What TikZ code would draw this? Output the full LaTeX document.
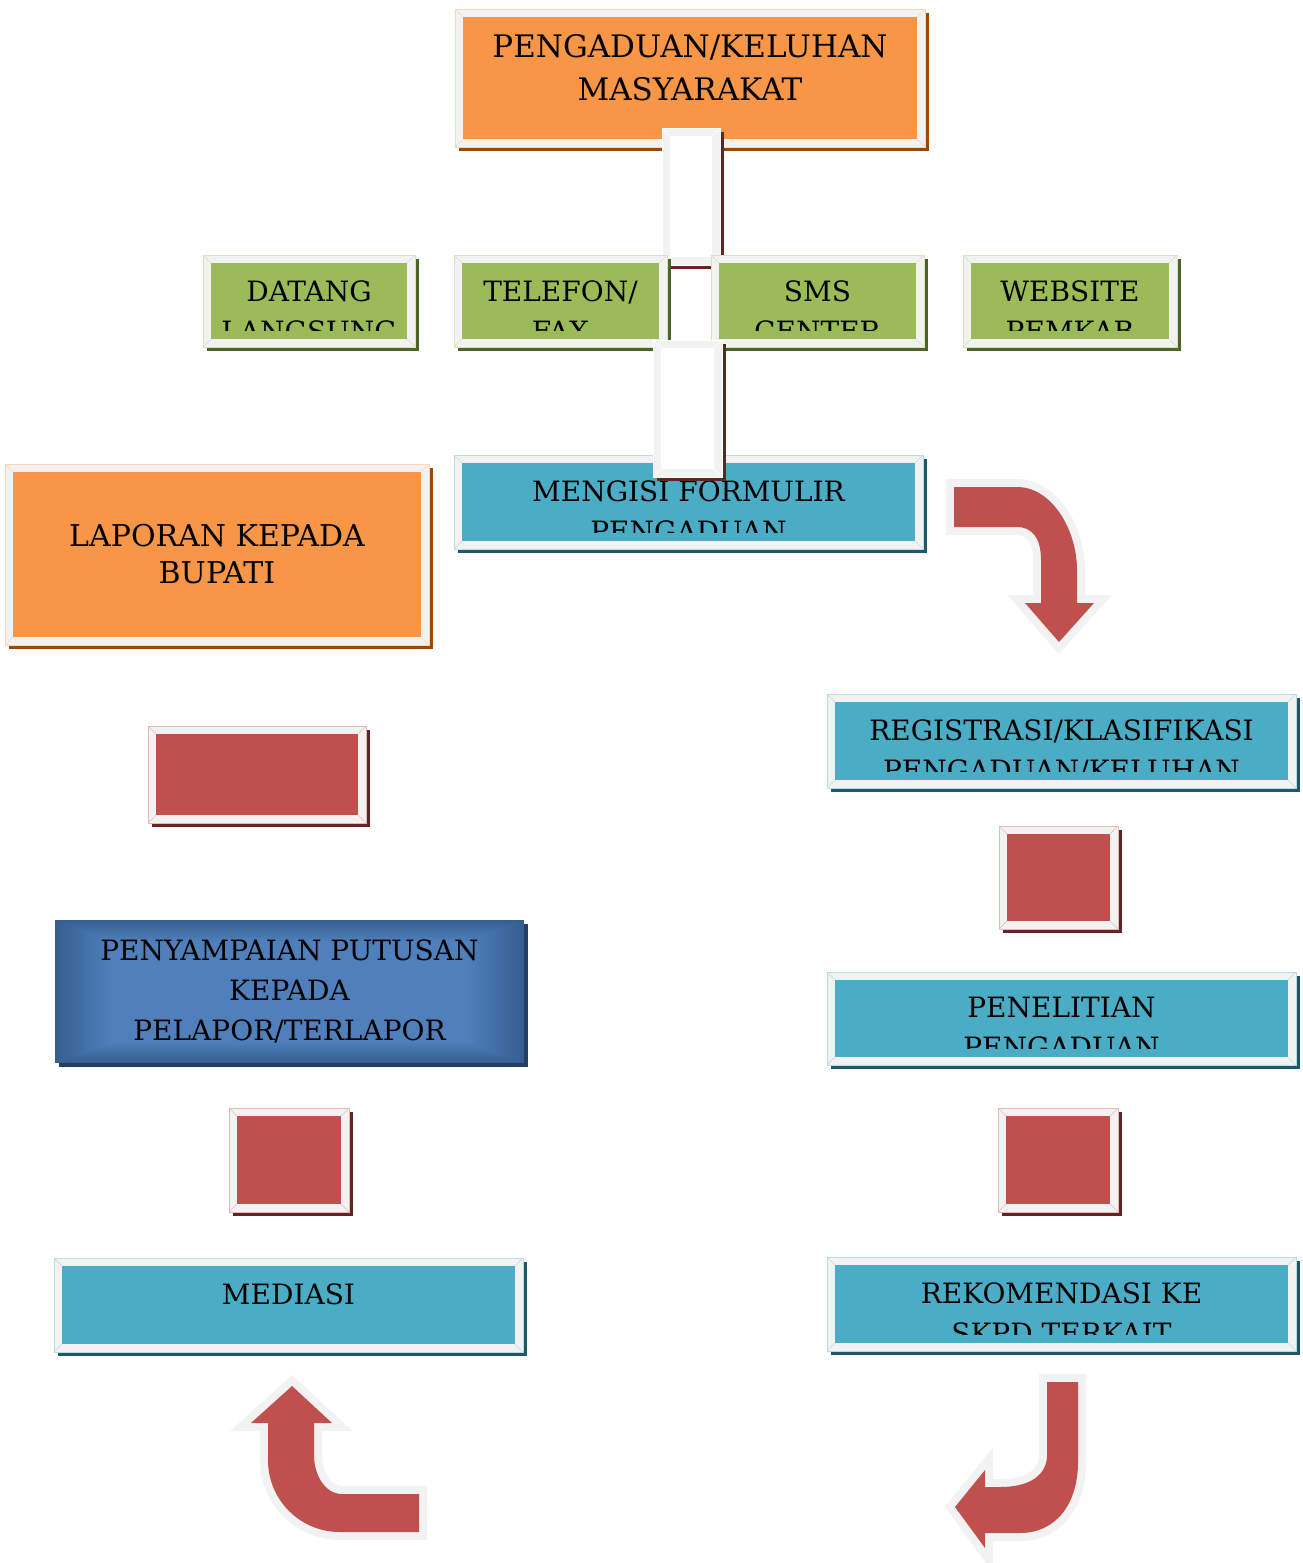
\documentclass[tikz,border=0pt]{standalone}
\usepackage{fontspec}
\setmainfont{DejaVu Serif}
\usetikzlibrary{shadows}
\definecolor{PanelGrey}{HTML}{F2F2F2}
\definecolor{OrangeFill}{HTML}{F79646}
\definecolor{OrangeDark}{HTML}{984807}
\definecolor{GreenFill}{HTML}{9BBB59}
\definecolor{GreenDark}{HTML}{4F6228}
\definecolor{TealFill}{HTML}{4BACC6}
\definecolor{TealDark}{HTML}{215868}
\definecolor{RedFill}{HTML}{C0504D}
\definecolor{RedDark}{HTML}{632523}
\definecolor{BlueMid}{HTML}{4F81BD}
\definecolor{BlueEdge}{HTML}{365F91}
\definecolor{BlueDark}{HTML}{243F60}
\newcommand\smallcaption{\fontsize{14}{20}\selectfont}
\newcommand\bigcaption{\fontsize{15.5}{21.5}\selectfont}
\newcommand\midcaption{\fontsize{15}{18.5}\selectfont}
\tikzset{
  % a box given by its corners, in pixels of the layout
  span/.style args={#1,#2,#3,#4}{at={({(#1+#3)/2},{(#2+#4)/2})},
    minimum width={(#3-#1)*0.5pt}, minimum height={(#4-#2)*0.5pt}},
  panel font/.store in=\panelfont, panel font=\smallcaption,
  panel/.style n args={3}{rectangle, inner sep=0pt, fill=PanelGrey,
    draw=#1!40!white, line width=0.4pt,
    drop shadow={shadow xshift=2pt, shadow yshift=-2pt, opacity=1, fill=#2},
    path picture={
      \fill[#1] ([shift={(4pt,-4pt)}]path picture bounding box.north west)
        rectangle ([shift={(-4pt,4pt)}]path picture bounding box.south east);
      \draw[#1!40!white, line width=0.3pt]
        (path picture bounding box.north west) -- ++(4pt,-4pt)
        (path picture bounding box.north east) -- ++(-4pt,-4pt)
        (path picture bounding box.south west) -- ++(4pt,4pt)
        (path picture bounding box.south east) -- ++(-4pt,4pt);
      \clip ([shift={(4pt,-4pt)}]path picture bounding box.north west)
        rectangle ([shift={(-4pt,8.5pt)}]path picture bounding box.south east);
      \node[anchor=north, align=center, inner sep=0pt, minimum size=0pt,
            draw=none, fill=none, font=\panelfont]
        at ([yshift=-12.5pt]path picture bounding box.north) {#3};
    }},
  glow/.style={rectangle, inner sep=0pt, align=center, font=\smallcaption,
    drop shadow={shadow xshift=2pt, shadow yshift=-2pt, opacity=1, fill=BlueDark},
    path picture={
      \foreach \k [evaluate=\k as \mix using int(100-7*\k)] in {0,...,14}
        \fill[BlueEdge!\mix!BlueMid]
          ([shift={({2*\k pt},{-0.75*\k pt})}]path picture bounding box.north west)
          rectangle ([shift={({-2*\k pt},{0.75*\k pt})}]path picture bounding box.south east);
    }},
  turn arrow/.style={fill=RedFill,
    preaction={draw=PanelGrey, line width=8pt, line join=miter}},
}
\begin{document}
\begin{tikzpicture}[x=0.5pt, y=-0.5pt]
  \useasboundingbox (0,0) rectangle (1302,1563);
  % complaint and channels
  \node[panel={OrangeFill}{OrangeDark}{PENGADUAN/KELUHAN\\MASYARAKAT},
        panel font=\bigcaption, span={455,9,925,147}] (keluhan) {};
  \node[panel={white}{RedDark}{}, span={662,128,720,265}] (link1) {};
  \node[panel={GreenFill}{GreenDark}{DATANG\\LANGSUNG}, span={203,255,415,347}] (datang) {};
  \node[panel={GreenFill}{GreenDark}{TELEFON/\\FAX}, span={454,255,667,347}] (telefon) {};
  \node[panel={GreenFill}{GreenDark}{SMS\\CENTER}, span={711,255,924,347}] (sms) {};
  \node[panel={GreenFill}{GreenDark}{WEBSITE\\PEMKAB}, span={963,255,1177,347}] (website) {};
  \node[panel={TealFill}{TealDark}{MENGISI FORMULIR\\PENGADUAN}, span={454,455,923,549}] (formulir) {};
  \node[panel={white}{RedDark}{}, span={653,340,722,477}] (link2) {};

  % right column
  \node[panel={TealFill}{TealDark}{REGISTRASI/KLASIFIKASI\\PENGADUAN/KELUHAN}, span={827,694,1296,788}] (registrasi) {};
  \node[panel={RedFill}{RedDark}{}, span={999,826,1118,929}] (step1) {};
  \node[panel={TealFill}{TealDark}{PENELITIAN\\PENGADUAN}, span={827,972,1296,1065}] (penelitian) {};
  \node[panel={RedFill}{RedDark}{}, span={998,1108,1118,1212}] (step2) {};
  \node[panel={TealFill}{TealDark}{REKOMENDASI KE\\SKPD TERKAIT}, span={827,1257,1296,1351}] (rekomendasi) {};

  % left column
  \node[panel={TealFill}{TealDark}{MEDIASI}, span={54,1258,523,1352}] (mediasi) {};
  \node[panel={RedFill}{RedDark}{}, span={229,1108,349,1212}] (step3) {};
  \node[glow, span={55,920,524,1063}] (putusan) {PENYAMPAIAN PUTUSAN\\KEPADA\\PELAPOR/TERLAPOR};
  \node[panel={RedFill}{RedDark}{}, span={148,726,366,823}] (step4) {};
  \node[panel={OrangeFill}{OrangeDark}{}, span={5,464,429,645},
        align=center, font=\midcaption] (laporan) {LAPORAN KEPADA\\BUPATI};

  % bent arrows
  \path[turn arrow] (954,487) -- (1017,487) .. controls (1052,487) and (1077,530) .. (1077,570)
    -- (1077,603) -- (1094,603) -- (1059,642) -- (1025,603) -- (1041,603) -- (1041,560)
    .. controls (1041,538) and (1032,527) .. (1017,527) -- (954,527) -- cycle;
  \path[turn arrow] (1047,1382) -- (1078,1382) -- (1078,1462)
    .. controls (1078,1505) and (1055,1533) .. (1020,1533) -- (985,1533) -- (985,1548)
    -- (955,1507) -- (985,1470) -- (985,1487) -- (1000,1487)
    .. controls (1030,1487) and (1047,1475) .. (1047,1455) -- cycle;
  \path[turn arrow] (419,1494) -- (342,1494) .. controls (325,1494) and (314,1475) .. (314,1455)
    -- (314,1423) -- (332,1423) -- (292,1386) -- (251,1423) -- (268,1423) -- (268,1460)
    .. controls (268,1500) and (300,1532) .. (340,1532) -- (419,1532) -- cycle;
\end{tikzpicture}
\end{document}
